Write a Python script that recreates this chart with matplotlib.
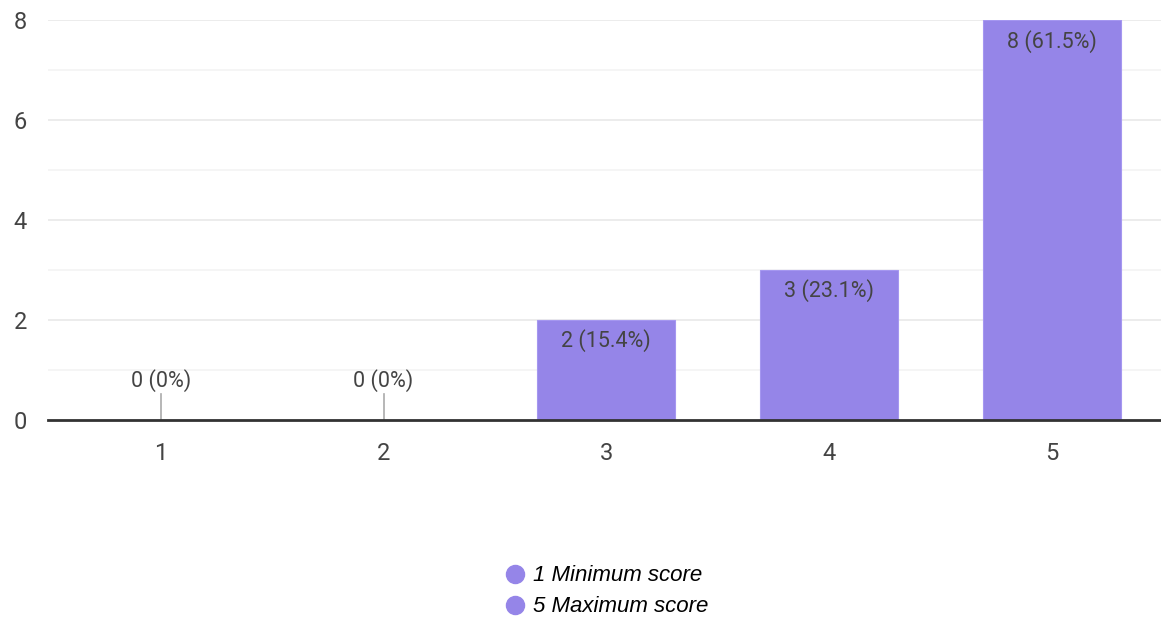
import matplotlib.pyplot as plt
from matplotlib.lines import Line2D

scores = ['1', '2', '3', '4', '5']
counts = [0, 0, 2, 3, 8]
percents = ['0%', '0%', '15.4%', '23.1%', '61.5%']
legend_labels = ['1 Minimum score', '5 Maximum score']

bar_color = '#9585e8'
text_color = '#444444'

fig = plt.figure(figsize=(11.61, 6.18), dpi=100)
ax = fig.add_axes([0.0413, 0.3204, 0.9587, 0.6472])

xs = list(range(1, len(scores) + 1))
ax.bar(xs, counts, width=0.62, color=bar_color, edgecolor='#a597f0',
       linewidth=0.8, zorder=3)

for x, c, p in zip(xs, counts, percents):
    label = f'{c} ({p})'
    if c == 0:
        # stem marker for empty categories
        ax.plot([x, x], [0, 0.52], color='#aaaaaa', lw=1.2, zorder=4)
        ax.text(x, 0.78, label, ha='center', va='center', fontsize=15.5,
                color=text_color, family='Roboto')
    else:
        ax.text(x, c - 0.42, label, ha='center', va='center', fontsize=15.5,
                color=text_color, family='Roboto')

ax.set_xlim(0.493, 5.49)
ax.set_ylim(0, 8)
ax.set_xticks(xs)
ax.set_xticklabels(scores)
ax.set_yticks([0, 2, 4, 6, 8])
ax.set_yticks([1, 3, 5, 7], minor=True)

ax.grid(axis='y', which='major', color='#ebebeb', lw=1.3, zorder=0)
ax.grid(axis='y', which='minor', color='#f3f3f3', lw=1.1, zorder=0)
ax.tick_params(axis='both', which='both', length=0)
ax.tick_params(axis='x', pad=16, labelsize=17, labelcolor=text_color)
ax.tick_params(axis='y', pad=15, labelsize=17, labelcolor=text_color)
for lab in ax.get_xticklabels() + ax.get_yticklabels():
    lab.set_family('Roboto')

for side in ['top', 'right', 'left']:
    ax.spines[side].set_visible(False)
ax.spines['bottom'].set_color('#333333')
ax.spines['bottom'].set_linewidth(2)
ax.spines['bottom'].set_zorder(5)

handles = [Line2D([0], [0], marker='o', color='none', markerfacecolor=bar_color,
                  markeredgecolor=bar_color, markersize=13)
           for _ in legend_labels]
fig.legend(handles, legend_labels, loc='center', bbox_to_anchor=(0.521, 0.043),
           frameon=False, handletextpad=0.2, labelspacing=0.45, handlelength=1.2,
           prop={'family': 'Liberation Sans', 'style': 'italic', 'size': 16})

fig.savefig('out.png', dpi=100)
